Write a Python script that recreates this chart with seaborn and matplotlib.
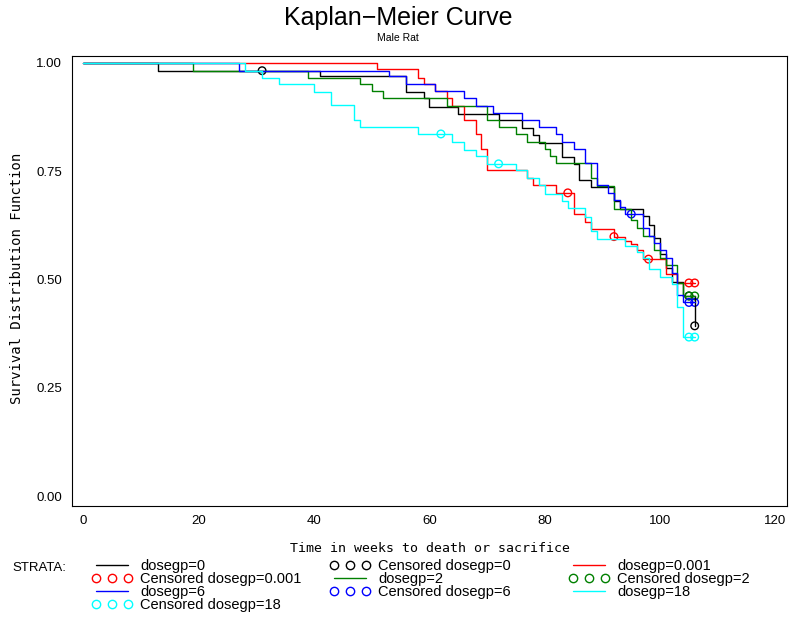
import numpy as np
import pandas as pd
import matplotlib
matplotlib.use("Agg")
import matplotlib.pyplot as plt
import seaborn as sns
from matplotlib.lines import Line2D

# Kaplan-Meier step points: time in weeks, survival right after that time
t_d0 = [0, 13, 41, 56, 59, 60, 65, 72, 76, 78, 79, 83, 85, 86, 88, 92, 93, 97, 98, 99, 100, 101, 102, 104, 106]
s_d0 = [1.0, 0.982, 0.969, 0.934, 0.918, 0.899, 0.882, 0.868, 0.849, 0.834, 0.816, 0.782, 0.766, 0.730, 0.714,
        0.682, 0.663, 0.647, 0.626, 0.595, 0.560, 0.526, 0.495, 0.462, 0.393]

t_d001 = [0, 51, 58, 59, 61, 63, 64, 66, 68, 69, 70, 77, 78, 82, 85, 87, 88, 92, 94, 95, 96, 97, 101, 103, 106]
s_d001 = [1.0, 0.985, 0.966, 0.951, 0.935, 0.918, 0.901, 0.868, 0.835, 0.801, 0.753, 0.734, 0.718, 0.700, 0.651,
          0.633, 0.616, 0.599, 0.590, 0.581, 0.568, 0.547, 0.513, 0.492, 0.492]

t_d2 = [0, 19, 39, 48, 50, 52, 63, 70, 72, 75, 77, 80, 81, 82, 88, 89, 92, 95, 96, 97, 99, 100, 101, 103, 104, 106]
s_d2 = [1.0, 0.982, 0.966, 0.951, 0.935, 0.918, 0.901, 0.868, 0.853, 0.835, 0.818, 0.801, 0.784, 0.770, 0.734,
        0.716, 0.663, 0.637, 0.618, 0.600, 0.568, 0.549, 0.533, 0.491, 0.462, 0.462]

t_d6 = [0, 27, 53, 56, 61, 66, 68, 71, 76, 79, 82, 83, 85, 87, 89, 91, 92, 93, 94, 97, 98, 99, 100, 101, 102, 103,
        104, 106]
s_d6 = [1.0, 0.982, 0.969, 0.952, 0.935, 0.918, 0.901, 0.885, 0.868, 0.851, 0.836, 0.818, 0.801, 0.768, 0.718,
        0.700, 0.684, 0.668, 0.651, 0.618, 0.600, 0.584, 0.568, 0.549, 0.514, 0.464, 0.447, 0.447]

t_d18 = [0, 28, 31, 34, 40, 43, 47, 48, 58, 64, 66, 68, 70, 75, 77, 79, 80, 83, 84, 87, 88, 89, 94, 96, 97, 98,
         100, 102, 103, 104, 106]
s_d18 = [1.0, 0.982, 0.966, 0.952, 0.934, 0.903, 0.868, 0.853, 0.836, 0.817, 0.799, 0.786, 0.767, 0.753, 0.734,
         0.717, 0.697, 0.682, 0.664, 0.645, 0.613, 0.594, 0.578, 0.564, 0.549, 0.524, 0.505, 0.489, 0.437, 0.367,
         0.367]

# censored observations
ct_d0 = [31, 105, 106]
cs_d0 = [0.982, 0.462, 0.393]
ct_d001 = [84, 92, 98, 105, 106]
cs_d001 = [0.700, 0.599, 0.547, 0.492, 0.492]
ct_d2 = [105, 106]
cs_d2 = [0.462, 0.462]
ct_d6 = [95, 105, 106]
cs_d6 = [0.651, 0.447, 0.447]
ct_d18 = [62, 72, 105, 106]
cs_d18 = [0.836, 0.767, 0.367, 0.367]

groups = ["0", "0.001", "2", "6", "18"]
colors = ["black", "red", "#008000", "blue", "cyan"]

curves = pd.concat([
    pd.DataFrame({"time": t, "surv": s, "dosegp": g})
    for g, t, s in zip(groups, [t_d0, t_d001, t_d2, t_d6, t_d18], [s_d0, s_d001, s_d2, s_d6, s_d18])
])
cens = pd.concat([
    pd.DataFrame({"time": t, "surv": s, "dosegp": g})
    for g, t, s in zip(groups, [ct_d0, ct_d001, ct_d2, ct_d6, ct_d18], [cs_d0, cs_d001, cs_d2, cs_d6, cs_d18])
])

sns.set_style("white")
plt.rcParams["font.family"] = ["Liberation Sans", "DejaVu Sans"]
plt.rcParams["text.color"] = "black"
plt.rcParams["axes.labelcolor"] = "black"
pal = dict(zip(groups, colors))

fig = plt.figure(figsize=(7.9, 6.18), dpi=100)
ax = fig.add_axes([0.0908, 0.1812, 0.9054, 0.7282])

sns.lineplot(data=curves, x="time", y="surv", hue="dosegp", hue_order=groups, palette=pal,
             drawstyle="steps-post", estimator=None, sort=False, linewidth=1.0, legend=False, ax=ax)
sns.scatterplot(data=cens, x="time", y="surv", hue="dosegp", hue_order=groups, palette=pal,
                marker="o", s=30, linewidth=1.0, legend=False, ax=ax)
# scatterplot fills faces with hue colour; make them open circles
for coll in ax.collections:
    coll.set_edgecolors(coll.get_facecolors())
    coll.set_facecolors("none")

ax.set_xlim(-2, 122)
ax.set_ylim(-0.023, 1.016)
ax.set_xticks(range(0, 121, 20))
ax.set_yticks([0, 0.25, 0.5, 0.75, 1.0])
ax.set_yticklabels(["0.00", "0.25", "0.50", "0.75", "1.00"])
ax.tick_params(direction="out", length=4.3, width=0.8, labelsize=9.5, colors="black", pad=2.5)
for sp in ax.spines.values():
    sp.set_linewidth(0.8)
    sp.set_color("black")
ax.set_xlabel("")
ax.set_ylabel("")

mono = "DejaVu Sans Mono"
fig.text(430 / 790, 1 - 548 / 618, "Time in weeks to death or sacrifice", family=mono, fontsize=9.5,
         ha="center", va="center")
fig.text(17 / 790, 1 - 278 / 618, "Survival Distribution Function", family=mono, fontsize=10,
         rotation=90, ha="center", va="center")
fig.text(398 / 790, 1 - 18 / 618, "Kaplan\u2212Meier Curve", fontsize=18, ha="center", va="center")
fig.text(398 / 790, 1 - 38 / 618, "Male Rat", fontsize=7.5, ha="center", va="center")

# legend laid out row by row in three columns
fig.text(12 / 790, 1 - 568 / 618, "STRATA:", fontsize=9.5, ha="left", va="center")
entries = []
for g, c in zip(groups, colors):
    entries.append((Line2D([], [], color=c, lw=1.0), f"dosegp={g}"))
    entries.append((Line2D([], [], color=c, marker="o", ls="none", mfc="none", ms=6, mew=1.0),
                    f"Censored dosegp={g}"))
col_x = [92, 330, 569]
for k in range(3):
    items = entries[k::3]
    fig.legend([h for h, _ in items], [l for _, l in items], loc="upper left",
               bbox_to_anchor=(col_x[k] / 790, 1 - 559 / 618), frameon=False, fontsize=10.5,
               numpoints=3, handlelength=2.74, handletextpad=0.55, labelspacing=-0.06,
               borderpad=0, borderaxespad=0)

fig.savefig("out.png", dpi=100)
